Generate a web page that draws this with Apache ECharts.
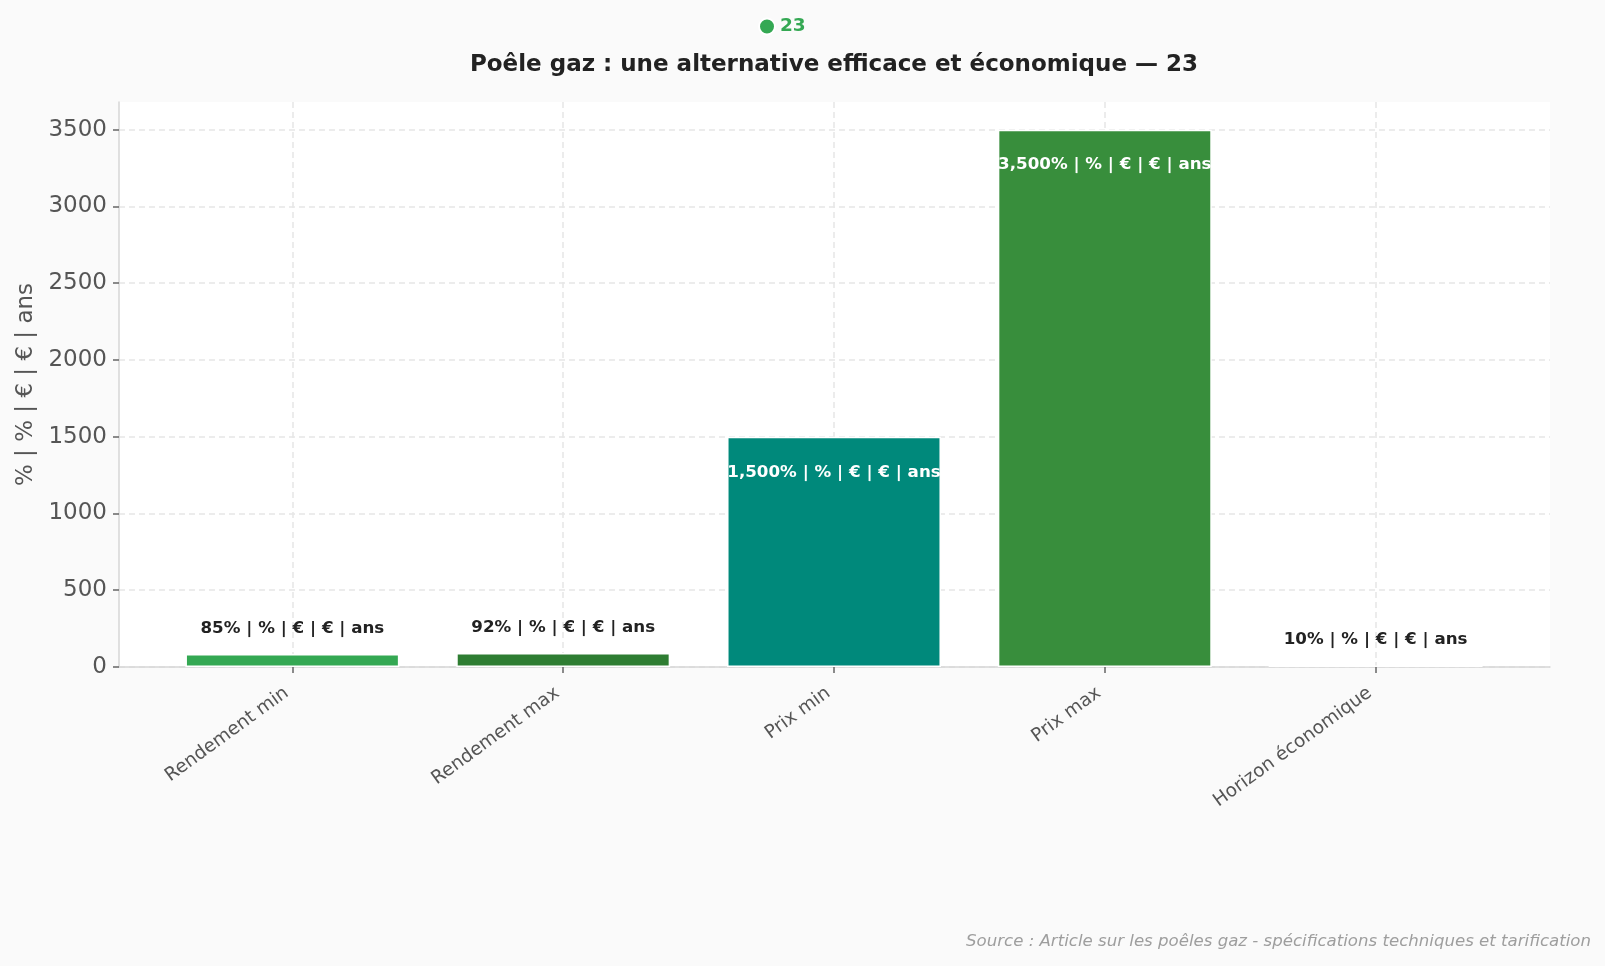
<!DOCTYPE html>
<html>
<head>
<meta charset="utf-8">
<script src="https://cdn.jsdelivr.net/npm/echarts@6/dist/echarts.min.js"></script>
<style>
  html, body { margin: 0; padding: 0; background: #fafafa; }
  #chart { width: 1605px; height: 966px; }
</style>
</head>
<body>
<div id="chart"></div>
<script>
const categories = ['Rendement min', 'Rendement max', 'Prix min', 'Prix max', 'Horizon économique']
const values = [85, 92, 1500, 3500, 10]
const barColors = ['#34a853', '#2e7d32', '#00897b', '#388e3c', '#ffffff']
const unitSuffix = ' | % | € | € | ans'
const seriesName = '23'
const titleText = 'Poêle gaz : une alternative efficace et économique — 23'
const sourceText = 'Source : Article sur les poêles gaz - spécifications techniques et tarification'

const FONT = '"DejaVu Sans", sans-serif'
const Y_MAX = 3680
let chart = echarts.init(document.getElementById('chart'), null, { renderer: 'canvas' })

// les grandes barres ont le label à l'intérieur, les petites au-dessus
let data = values.map((v, i) => {
    let inside = v > 1000
    return {
        value: v,
        itemStyle: { color: barColors[i] },
        label: inside
            ? { position: 'insideTop', distance: 27, color: '#ffffff' }
            : { position: 'top', distance: 17, color: '#222222' }
    }
})

let option = {
    backgroundColor: '#fafafa',
    textStyle: { fontFamily: FONT },
    title: [{
        text: titleText,
        left: 829,
        top: 49,
        textAlign: 'center',
        textStyle: { fontFamily: FONT, fontSize: 23, fontWeight: 'bold', color: '#222222' }
    }, {
        text: sourceText,
        right: 9,
        top: 928,
        textStyle: { fontFamily: FONT, fontSize: 16.6, fontWeight: 'normal', fontStyle: 'italic', color: '#9e9e9e' }
    }],
    legend: {
        data: [seriesName],
        left: 753,
        top: 12,
        icon: 'circle',
        itemWidth: 16,
        itemHeight: 16,
        itemGap: 6,
        textStyle: { fontFamily: FONT, fontSize: 18.5, fontWeight: 'bold', color: '#34a853' }
    },
    // grille 0 : fond blanc, axe y, lignes horizontales ; grille 1 : les barres (avec marges)
    grid: [{
        left: 119, right: 55, top: 102, bottom: 299,
        show: true, backgroundColor: '#ffffff', borderWidth: 0
    }, {
        left: 157, right: 94, top: 102, bottom: 299
    }],
    xAxis: [{
        gridIndex: 0,
        type: 'value',
        min: 0, max: 1,
        axisLine: { show: true, onZero: false, lineStyle: { color: '#d6d6d6', width: 1.5 } },
        axisTick: { show: false },
        axisLabel: { show: false },
        splitLine: { show: false }
    }, {
        gridIndex: 1,
        type: 'category',
        data: categories,
        axisLine: { show: false },
        axisTick: { show: true, alignWithLabel: true, length: 6, lineStyle: { color: '#666666', width: 1.5 } },
        axisLabel: { rotate: 36, fontSize: 18.5, color: '#555555', fontFamily: FONT, margin: 20, padding: [0, 7, 0, 0] },
        splitLine: { show: true, alignWithLabel: true, lineStyle: { color: '#e6e6e6', type: [6, 4], width: 1.5 } }
    }],
    yAxis: [{
        gridIndex: 0,
        type: 'value',
        min: 0,
        max: Y_MAX,
        interval: 500,
        name: '% | % | € | € | ans',
        nameLocation: 'middle',
        nameGap: 80,
        nameTextStyle: { fontFamily: FONT, fontSize: 23, color: '#555555' },
        axisLine: { show: true, lineStyle: { color: '#d6d6d6', width: 1.5 } },
        axisTick: { show: true, length: 6, lineStyle: { color: '#666666', width: 1.5 } },
        axisLabel: {
            fontSize: 23, color: '#555555', fontFamily: FONT, margin: 12, showMaxLabel: false,
            formatter: v => (v % 500 === 0 ? String(v) : '')
        },
        splitLine: { show: true, showMaxLine: false, lineStyle: { color: '#e6e6e6', type: [6, 4], width: 1.5 } }
    }, {
        gridIndex: 1,
        type: 'value',
        min: 0,
        max: Y_MAX,
        show: false,
        splitLine: { show: false }
    }],
    series: [{
        name: seriesName,
        type: 'bar',
        xAxisIndex: 1,
        yAxisIndex: 1,
        data: data,
        barWidth: '79%',
        itemStyle: { color: '#34a853', borderColor: '#ffffff', borderWidth: 1.5 },
        label: {
            show: true,
            fontFamily: FONT,
            fontSize: 16.7,
            fontWeight: 'bold',
            formatter: p => p.value.toLocaleString('en-US') + '%' + unitSuffix
        },
        animation: false
    }]
}

chart.setOption(option)
</script>
</body>
</html>
